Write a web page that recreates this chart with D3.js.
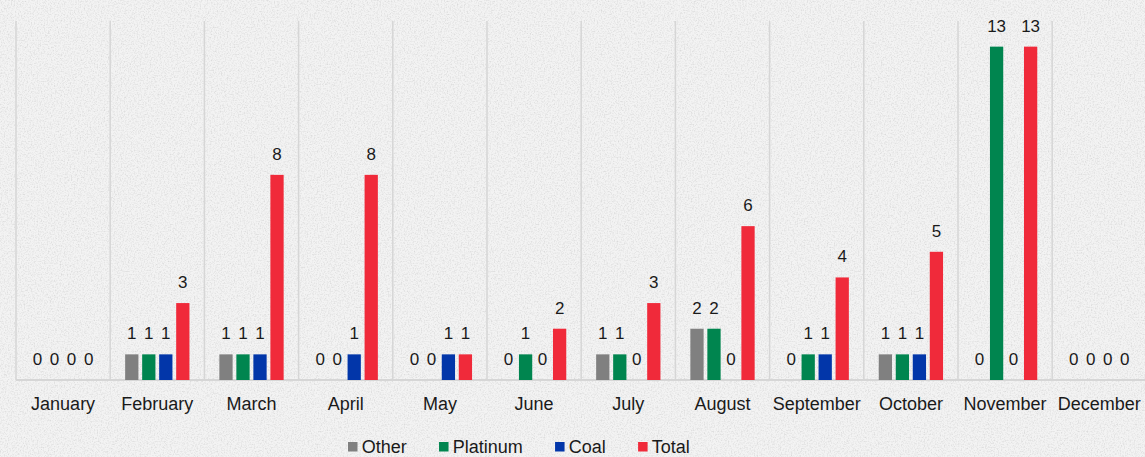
<!DOCTYPE html>
<html>
<head>
<meta charset="utf-8">
<script src="https://cdn.jsdelivr.net/npm/d3@7"></script>
<style>
  html, body { margin: 0; padding: 0; background: #efefef; }
  svg { display: block; }
  text { font-family: "Liberation Sans", Arial, sans-serif; fill: #1a1a1a; }
</style>
</head>
<body>
<svg id="chart" width="1145" height="457"></svg>
<script>
const months = ["January","February","March","April","May","June","July","August","September","October","November","December"];
const seriesNames = ["Other","Platinum","Coal","Total"];
const otherValues    = [0,1,1,0,0,0,1,2,0,1,0,0];
const platinumValues = [0,1,1,0,0,1,1,2,1,1,13,0];
const coalValues     = [0,1,1,1,1,0,0,0,1,1,0,0];
const totalValues    = [0,3,8,8,1,2,3,6,4,5,13,0];
const seriesColors   = ["#808080","#00854f","#0236a9","#f02a3a"];
const yMax = 14;

const W = 1145, H = 457;
const margin = {left: 16, top: 21, bottom: 77};
const plotRight = 16 + 94.2 * 12;
const baseY = H - margin.bottom;

const svg = d3.select("#chart");

// paper texture background
const defs = svg.append("defs");
const f = defs.append("filter").attr("id","paper").attr("x",0).attr("y",0).attr("width","100%").attr("height","100%");
f.append("feTurbulence").attr("type","fractalNoise").attr("baseFrequency","0.7").attr("numOctaves",3).attr("seed",4).attr("result","noise");
f.append("feColorMatrix").attr("in","noise").attr("type","matrix")
  .attr("values","0 0 0 0 0.6  0 0 0 0 0.6  0 0 0 0 0.6  0 0 0 -1.4 0.8").attr("result","specks");
f.append("feComposite").attr("in","specks").attr("in2","SourceGraphic").attr("operator","over");
svg.append("rect").attr("width",W).attr("height",H).attr("fill","#f3f3f3").attr("filter","url(#paper)");

const x0 = d3.scaleBand().domain(months).range([margin.left, plotRight]).paddingInner(0).paddingOuter(0);
const x1 = d3.scaleBand().domain(seriesNames).range([-32.15, 32.15]).paddingInner(0.22);
const y = d3.scaleLinear().domain([0, yMax]).range([baseY, margin.top]);

const data = months.map((m, i) => ({
  month: m,
  values: [otherValues[i], platinumValues[i], coalValues[i], totalValues[i]]
}));

// vertical gridlines (category separators)
const gridX = months.map(m => x0(m)).concat([x0(months[months.length-1]) + x0.bandwidth()]);
svg.append("g").selectAll("line").data(gridX).join("line")
  .attr("x1", d => d).attr("x2", d => d)
  .attr("y1", y(yMax)).attr("y2", baseY)
  .attr("stroke", "#d6d6d6").attr("stroke-width", 1.5);

// baseline
svg.append("line")
  .attr("x1", margin.left).attr("x2", plotRight)
  .attr("y1", baseY).attr("y2", baseY)
  .attr("stroke", "#d6d6d6").attr("stroke-width", 2);

const groups = svg.append("g").selectAll("g").data(data).join("g")
  .attr("transform", d => `translate(${x0(d.month) + x0.bandwidth()/2},0)`);

groups.selectAll("rect").data(d => d.values.map((v, j) => ({name: seriesNames[j], v, color: seriesColors[j]})))
  .join("rect")
  .attr("x", d => x1(d.name))
  .attr("width", x1.bandwidth())
  .attr("y", d => y(d.v))
  .attr("height", d => baseY - y(d.v))
  .attr("fill", d => d.color);

groups.selectAll("text.val").data(d => d.values.map((v, j) => ({name: seriesNames[j], v})))
  .join("text").attr("class","val")
  .attr("x", d => x1(d.name) + x1.bandwidth()/2)
  .attr("y", d => y(d.v) - 15)
  .attr("text-anchor","middle")
  .attr("font-size", 17)
  .text(d => d.v);

// x-axis labels
const xAxis = d3.axisBottom(x0).tickSize(0).tickPadding(0);
const ax = svg.append("g").attr("transform", `translate(0,${baseY})`).call(xAxis);
ax.select(".domain").remove();
ax.selectAll("text")
  .attr("dy", null).attr("y", 30)
  .attr("font-size", 18)
  .attr("font-family", '"Liberation Sans", Arial, sans-serif')
  .attr("fill", "#1a1a1a");

// legend
const legend = svg.append("g").attr("transform", "translate(348,0)");
let lx = 0;
seriesNames.forEach((name, j) => {
  const g = legend.append("g").attr("transform", `translate(${lx},0)`);
  g.append("rect").attr("x", 0).attr("y", 442).attr("width", 9.5).attr("height", 9.5).attr("fill", seriesColors[j]);
  const t = g.append("text").attr("x", 13.7).attr("y", 452.7).attr("font-size", 18).text(name);
  lx += 13.7 + t.node().getComputedTextLength() + 32.3;
});
</script>
</body>
</html>
